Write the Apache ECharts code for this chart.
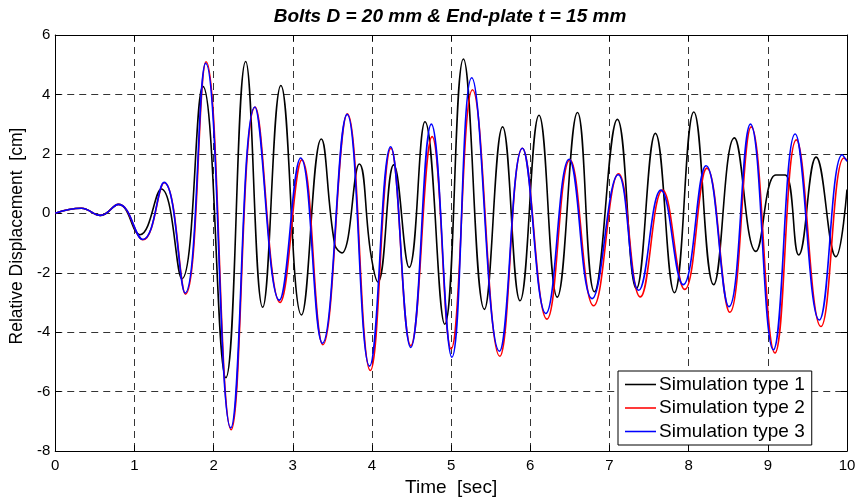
<!DOCTYPE html>
<html>
<head>
<meta charset="utf-8">
<script src="https://cdn.jsdelivr.net/npm/echarts@6/dist/echarts.min.js"></script>
<style>
  html, body { margin: 0; padding: 0; background: #fff; }
  #chart { width: 859px; height: 502px; }
</style>
</head>
<body>
<div id="chart"></div>
<script>
// Relative displacement histories (cm) — sampled at turning points of each response
const t1 = [0, 0.33, 0.57, 0.80, 1.07, 1.34, 1.60, 1.865, 2.155, 2.405, 2.62, 2.85, 3.11, 3.36, 3.53, 3.62, 3.84, 3.985, 4.075, 4.275, 4.47, 4.67, 4.92, 5.155, 5.42, 5.65, 5.87, 6.11, 6.34, 6.596, 6.81, 7.10, 7.34, 7.58, 7.82, 8.065, 8.316, 8.577, 8.85, 9.10, 9.22, 9.39, 9.61, 9.86, 10.0];
const v1 = [0, 0.17, -0.07, 0.30, -0.72, 0.82, -2.2, 4.27, -5.53, 5.11, -3.16, 4.30, -3.42, 2.50, -1.05, -1.33, 1.66, -1.35, -2.31, 1.63, -1.82, 3.08, -3.73, 5.19, -3.23, 2.91, -2.94, 3.30, -2.82, 3.39, -2.64, 3.16, -2.53, 2.69, -2.67, 3.41, -2.40, 2.54, -1.28, 1.29, 1.29, -1.40, 1.89, -1.46, 0.8];

const t2 = [0, 0.33, 0.57, 0.80, 1.108, 1.377, 1.645, 1.905, 2.222, 2.525, 2.84, 3.115, 3.38, 3.69, 3.98, 4.24, 4.49, 4.76, 5.00, 5.27, 5.615, 5.90, 6.21, 6.50, 6.80, 7.115, 7.39, 7.67, 7.95, 8.23, 8.52, 8.79, 9.09, 9.36, 9.67, 9.96, 10.0];
const v2 = [0, 0.17, -0.07, 0.30, -0.89, 1.03, -2.72, 5.10, -7.28, 3.58, -3.0, 1.80, -4.42, 3.35, -5.29, 2.19, -4.45, 2.58, -4.56, 4.16, -4.81, 2.19, -3.56, 1.80, -3.11, 1.33, -2.81, 0.78, -2.56, 1.52, -3.33, 2.91, -4.70, 2.47, -3.81, 1.86, 1.8];

const t3 = [0, 0.33, 0.57, 0.80, 1.108, 1.375, 1.64, 1.90, 2.217, 2.52, 2.83, 3.10, 3.375, 3.686, 3.97, 4.236, 4.49, 4.75, 5.01, 5.26, 5.61, 5.90, 6.196, 6.49, 6.78, 7.11, 7.37, 7.65, 7.93, 8.22, 8.51, 8.78, 9.07, 9.345, 9.65, 9.94, 10.0];
const v3 = [0, 0.17, -0.07, 0.30, -0.88, 1.04, -2.68, 5.05, -7.22, 3.58, -2.92, 1.86, -4.37, 3.33, -5.14, 2.24, -4.51, 3.0, -4.84, 4.56, -4.64, 2.19, -3.37, 1.82, -2.87, 1.30, -2.59, 0.78, -2.4, 1.60, -3.14, 3.0, -4.59, 2.67, -3.59, 1.97, 1.75];

const seriesNames = ['Simulation type 1', 'Simulation type 2', 'Simulation type 3'];
const seriesColors = ['#000000', '#ff0000', '#0000ff'];
const xTicks = { min: 0, max: 10, interval: 1 };
const yTicks = { min: -8, max: 6, interval: 2 };

const FONT = '"Liberation Sans", Arial, Helvetica, sans-serif';

function pairs(t, v) {
  return t.map((x, i) => [x, v[i]]);
}

const chart = echarts.init(document.getElementById('chart'), null, { renderer: 'canvas' });

const gridDash = { type: [7, 5], color: '#000', width: 0.8 };
const frameLine = { show: true, onZero: false, lineStyle: { color: '#000', width: 1 } };
const innerTick = { show: true, inside: true, length: 6, lineStyle: { color: '#000', width: 1 } };

chart.setOption({
  animation: false,
  backgroundColor: '#fff',
  title: {
    text: 'Bolts D = 20 mm & End-plate t = 15 mm',
    left: 445,
    top: 2,
    textAlign: 'center',
    textStyle: { fontFamily: FONT, fontSize: 19, fontWeight: 'bold', fontStyle: 'italic', color: '#000' }
  },
  grid: { left: 53, right: 12, top: 35, bottom: 48, containLabel: false },
  legend: {
    orient: 'vertical',
    left: 618,
    top: 371,
    data: seriesNames,
    icon: 'path://M0,0 L32,0 L32,1.6 L0,1.6 Z',
    itemWidth: 31,
    itemHeight: 1.6,
    itemGap: 4.5,
    padding: [4, 7, 4, 7],
    backgroundColor: '#fff',
    borderColor: '#000',
    borderWidth: 1,
    borderRadius: 0,
    textStyle: { fontFamily: FONT, fontSize: 19, color: '#000', padding: [0, 0, 0, -2] }
  },
  xAxis: [
    {
      type: 'value',
      min: xTicks.min, max: xTicks.max, interval: xTicks.interval,
      name: 'Time  [sec]',
      nameLocation: 'middle',
      nameGap: 21,
      nameTextStyle: { fontFamily: FONT, fontSize: 19, color: '#000' },
      axisLine: frameLine,
      axisTick: innerTick,
      axisLabel: { fontFamily: FONT, fontSize: 15, color: '#000', margin: 7 },
      splitLine: { show: true, lineStyle: gridDash }
    },
    {
      type: 'value', position: 'top',
      min: xTicks.min, max: xTicks.max, interval: xTicks.interval,
      axisLine: frameLine,
      axisTick: innerTick,
      axisLabel: { show: false },
      splitLine: { show: false }
    }
  ],
  yAxis: [
    {
      type: 'value',
      min: yTicks.min, max: yTicks.max, interval: yTicks.interval,
      name: 'Relative Displacement  [cm]',
      nameLocation: 'middle',
      nameGap: 23,
      nameTextStyle: { fontFamily: FONT, fontSize: 17.5, color: '#000', padding: [0, 0, 0, 14] },
      axisLine: frameLine,
      axisTick: innerTick,
      axisLabel: { fontFamily: FONT, fontSize: 15, color: '#000', margin: 5 },
      splitLine: { show: true, lineStyle: gridDash }
    },
    {
      type: 'value', position: 'right',
      min: yTicks.min, max: yTicks.max, interval: yTicks.interval,
      axisLine: frameLine,
      axisTick: innerTick,
      axisLabel: { show: false },
      splitLine: { show: false }
    }
  ],
  series: [
    { t: t1, v: v1 }, { t: t2, v: v2 }, { t: t3, v: v3 }
  ].map((s, i) => ({
    name: seriesNames[i],
    type: 'line',
    xAxisIndex: 0,
    yAxisIndex: 0,
    data: pairs(s.t, s.v),
    smooth: 0.45,
    symbol: 'none',
    clip: true,
    color: seriesColors[i],
    lineStyle: { color: seriesColors[i], width: 1.6 },
    z: 2 + i
  }))
});
</script>
</body>
</html>
